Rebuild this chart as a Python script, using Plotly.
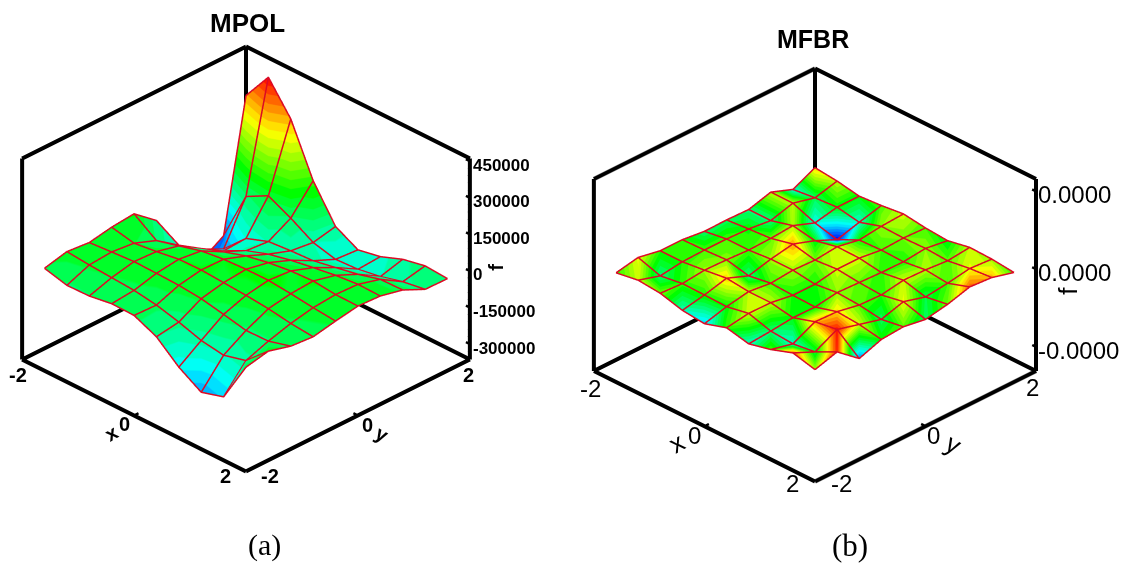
import numpy as np
import plotly.graph_objects as go

grid = [-1.8, -1.4, -1.0, -0.6, -0.2, 0.2, 0.6, 1.0, 1.4, 1.8]

# MPOL: rows are x, columns are y, in thousands
f_mpol = [
    [11, 33.5, 24.7, 41.8, 50.7, -22.6, -170, -280, -223, 306],
    [-13, 24.7, 32, 22, -13, -78, -140, -186, -16, 427],
    [-11, 18.5, 38.4, 33.6, 11, -46, -101, -96, 33, 302],
    [3.4, 12.3, 36.3, 48, 36.3, -13.7, -55, -63, -13, 94.5],
    [1.4, -2, 33, 50, 48, 15.7, -23, -55, -67, -47],
    [-40.4, -26, 24, 43.8, 52.7, 34, -2, -50, -90, -97],
    [-119, -55.5, 5.5, 37.7, 53.4, 46, 13.7, -32, -85, -79],
    [-176, -70, -14.4, 28.8, 44.5, 50.7, 28, -13.7, -69, -44],
    [-149, -46, -12.3, 14.4, 33, 41, 37, 11.6, -44, -25],
    [18.5, 38.4, 13, 5.5, 24, 39.7, 35, 13.7, -29.5, -31.5],
]
# MFBR: rows are x, columns are y, arbitrary small units
f_mfbr = [
    [-11, 2, -11, -11, -19, -18, -20, -1, -26, 6],
    [0, -20, -11, -9, -9, -12, -20, -1, -18, -1],
    [-6, -10, -3, -5, -9, -7, -2, -27, -13, -13],
    [-24, -11, 6, -20, -3, 9, -14, -44, -25, -8],
    [-31, -13, -1, -9, -3, -6, 1, -12, -4, 0],
    [-10, 0, -1, -12, -12, 0, 0, -9, -6, -9],
    [-25, -20, -13, -14, -4, -7, -10, -11, -4, -14],
    [-9, -25, 8, 5, -8, -11, 0, -2, -8, -1],
    [14, -16, 18, 0, -18, 2, -17, -9, 2, -3],
    [-3, 17, -36, -12, -7, -18, -6, 13, 8, -10],
]
ztick_mpol = [-300, -150, 0, 150, 300, 450]
ztext_mpol = ["-300000", "-150000", "0", "150000", "300000", "450000"]
zminor_mpol = [-330, -270, -240, -210, -180, -120, -90, -60, -30, 30, 60, 90, 120, 180, 210, 240, 270, 330, 360, 390, 420]
ztick_mfbr = [-233, 0, 233]
ztext_mfbr = ["-0.0000", "0.0000", "0.0000"]
range_mpol = [-363, 461]
range_mfbr = [-305, 270]
RED = "#dc0a24"
PAD = 0.03
LIFT = 0.012


def rainbow(n):
    anchors = [(0, 0, 255), (0, 255, 255), (0, 255, 0), (255, 255, 0), (255, 0, 0)]
    out = []
    for k in range(n):
        t = (k + 0.5) / n * 4
        i = min(int(t), 3)
        u = t - i
        c = [round(anchors[i][m] * (1 - u) + anchors[i + 1][m] * u) for m in range(3)]
        s = f"rgb({c[0]},{c[1]},{c[2]})"
        out += [[k / n, s], [(k + 1) / n, s]]
    return out


def box_lines(zr):
    a, b = -2, 2
    lo, hi = zr
    segs = [
        ((a, a, lo), (b, a, lo)), ((b, a, lo), (b, b, lo)), ((a, a, lo), (a, b, lo)), ((a, b, lo), (b, b, lo)),
        ((a, a, lo), (a, a, hi)), ((a, b, lo), (a, b, hi)), ((b, b, lo), (b, b, hi)),
        ((a, a, hi), (a, b, hi)), ((a, b, hi), (b, b, hi)),
    ]
    xs, ys, zs = [], [], []
    for p, q in segs:
        xs += [p[0], q[0], None]
        ys += [p[1], q[1], None]
        zs += [p[2], q[2], None]
    return xs, ys, zs


def tick_lines(zr, zticks):
    lo = zr[0]
    xs, ys, zs = [], [], []
    for v in zticks:
        xs += [2, 1.93, None]
        ys += [2, 2, None]
        zs += [v, v, None]
    for v in [-2, 0, 2]:
        xs += [v, v, None]
        ys += [-2, -1.92, None]
        zs += [lo, lo, None]
        xs += [2, 1.92, None]
        ys += [v, v, None]
        zs += [lo, lo, None]
    return xs, ys, zs


def minor_lines(zminor):
    xs, ys, zs = [], [], []
    for v in zminor:
        xs += [2, 1.965, None]
        ys += [2, 2, None]
        zs += [v, v, None]
    return xs, ys, zs


def mesh_lines(z, dx, dz):
    # nudged along the viewing direction only, so the projected position is unchanged
    n = len(grid)
    gx = [g + dx for g in grid]
    gy = [g - dx for g in grid]
    xs, ys, zs = [], [], []
    for i in range(n):
        xs += [gx[i]] * n + [None]
        ys += gy + [None]
        zs += [v + dz for v in z[i]] + [None]
        xs += gx + [None]
        ys += [gy[i]] * n + [None]
        zs += [z[j][i] + dz for j in range(n)] + [None]
    return xs, ys, zs


def add_panel(fig, scene, z, zr, cmin, cmax, zticks, zminor, a, az):
    n = len(grid)
    vx, vy, vz = [], [], []
    for i in range(n):
        for j in range(n):
            vx.append(grid[i])
            vy.append(grid[j])
            vz.append(z[i][j])
    ti, tj, tk = [], [], []
    for i in range(n - 1):
        for j in range(n - 1):
            p, q, r, s = i * n + j, (i + 1) * n + j, i * n + j + 1, (i + 1) * n + j + 1
            ti += [p, s]
            tj += [q, q]
            tk += [r, r]
    fig.add_trace(go.Mesh3d(
        scene=scene, x=vx, y=vy, z=vz, i=ti, j=tj, k=tk, intensity=vz, intensitymode="vertex",
        cmin=cmin, cmax=cmax, showscale=False, colorscale=rainbow(25), hoverinfo="skip",
        lighting=dict(ambient=1, diffuse=0, specular=0, roughness=1, fresnel=0), flatshading=False,
    ))
    dx = LIFT * 4 * (1 + PAD) / a
    dz = LIFT * 0.8165 * (zr[1] - zr[0]) * (1 + PAD) / (a * az)
    ex, ey, ez = mesh_lines(z, dx, dz)
    fig.add_trace(go.Scatter3d(scene=scene, x=ex, y=ey, z=ez, mode="lines",
                               line=dict(color=RED, width=3), hoverinfo="skip", showlegend=False))
    bx, by, bz = box_lines(zr)
    fig.add_trace(go.Scatter3d(scene=scene, x=bx, y=by, z=bz, mode="lines",
                               line=dict(color="black", width=8), hoverinfo="skip", showlegend=False))
    tx, ty, tz = tick_lines(zr, zticks)
    fig.add_trace(go.Scatter3d(scene=scene, x=tx, y=ty, z=tz, mode="lines",
                               line=dict(color="black", width=5), hoverinfo="skip", showlegend=False))
    if zminor:
        mx, my, mz = minor_lines(zminor)
        fig.add_trace(go.Scatter3d(scene=scene, x=mx, y=my, z=mz, mode="lines",
                                   line=dict(color="black", width=3), hoverinfo="skip", showlegend=False))


def labels(zr, zticks, ztext, bold, ts, zs, axs, pos):
    fam = "Liberation Sans"
    w = "<b>%s</b>" if bold else "%s"
    lo = zr[0]
    out = []

    def add(x, y, z, t, dx, dy, angle=0, s=ts, xa="center"):
        out.append(dict(x=x, y=y, z=z, text=w % t, showarrow=False, xshift=dx, yshift=dy, textangle=angle,
                        xanchor=xa, font=dict(family=fam, size=s, color="black")))
    add(-2, -2, lo, "-2", *pos["xm"])
    add(2, -2, lo, "2", *pos["xp"])
    add(0, -2, lo, "0", *pos["x0"])
    add(2, -2, lo, "-2", *pos["ym"])
    add(2, 2, lo, "2", *pos["yp"])
    add(2, 0, lo, "0", *pos["y0"])
    add(-0.4, -2, lo, "x", *pos["x"], -30, axs)
    add(2, 0.5, lo, "y", *pos["y"], 30, axs)
    for v, t in zip(zticks, ztext):
        add(2, 2, v, t, pos["zt"][0], pos["zt"][1], 0, zs, "left")
    add(2, 2, 0, "f", *pos["f"], -90, axs)
    return out


A1, AZ1 = 1.418, 0.733
A2, AZ2 = 1.40, 0.709

fig = go.Figure()
add_panel(fig, "scene", f_mpol, range_mpol, -300, 430, ztick_mpol, zminor_mpol, A1, AZ1)
add_panel(fig, "scene2", f_mfbr, range_mfbr, -44, 19, ztick_mfbr, None, A2, AZ2)

# the page body adds 8 px on the left and on top
OFF = 8
W, H = 1125, 557


def dom(cx, cy, hw):
    cx -= OFF
    cy -= OFF
    return dict(x=[(cx - hw) / W, (cx + hw) / W], y=[1 - (cy + hw) / H, 1 - (cy - hw) / H])


def scene_cfg(cx, cy, a, az, zr, ann):
    ax = dict(visible=False, showgrid=False, showbackground=False, zeroline=False)
    zp = (zr[1] - zr[0]) * PAD / 2
    return dict(
        domain=dom(cx, cy, 230),
        xaxis=dict(ax, range=[-2 * (1 + PAD), 2 * (1 + PAD)]), yaxis=dict(ax, range=[-2 * (1 + PAD), 2 * (1 + PAD)]),
        zaxis=dict(ax, range=[zr[0] - zp, zr[1] + zp]),
        aspectmode="manual", aspectratio=dict(x=a, y=a, z=a * az),
        camera=dict(projection=dict(type="orthographic"), eye=dict(x=1, y=-1, z=0.8165), up=dict(x=0, y=0, z=1),
                    center=dict(x=0, y=0, z=0)),
        annotations=ann,
    )


pos_a = dict(xm=(-4, -15), xp=(-20, -5), x0=(-10, -9), ym=(24, -5), yp=(-1, -15), y0=(10, -10),
             x=(0, -29), y=(-4, -33), zt=(1, -4), f=(26, 4))
pos_b = dict(xm=(-3, -18), xp=(-23, -2), x0=(-10, -10), ym=(26, -2), yp=(-4, -17), y0=(8, -10),
             x=(-6, -28), y=(0, -32), zt=(0, -4), f=(32, -22))
s1 = scene_cfg(246, 259, A1, AZ1, range_mpol,
               labels(range_mpol, ztick_mpol, ztext_mpol, True, 20, 17, 20, pos_a))
s2 = scene_cfg(815, 274.5, A2, AZ2, range_mfbr,
               labels(range_mfbr, ztick_mfbr, ztext_mfbr, False, 24, 24, 26, pos_b))


def note(x, y, t, fam, size):
    return dict(x=(x - OFF) / W, y=1 - (y - OFF) / H, xref="paper", yref="paper", text=t, showarrow=False,
                xanchor="center", yanchor="middle", font=dict(family=fam, size=size, color="black"))


fig.update_layout(
    width=W, height=H, margin=dict(l=0, r=0, t=0, b=0), paper_bgcolor="white", showlegend=False,
    scene=s1, scene2=s2,
    annotations=[
        note(247, 23, "<b>MPOL</b>", "Liberation Sans", 26),
        note(813, 39, "<b>MFBR</b>", "Liberation Sans", 25),
        note(264, 545, "(a)", "Liberation Serif", 30),
        note(850, 545, "(b)", "Liberation Serif", 31),
    ],
)
fig.write_html("out.html")
